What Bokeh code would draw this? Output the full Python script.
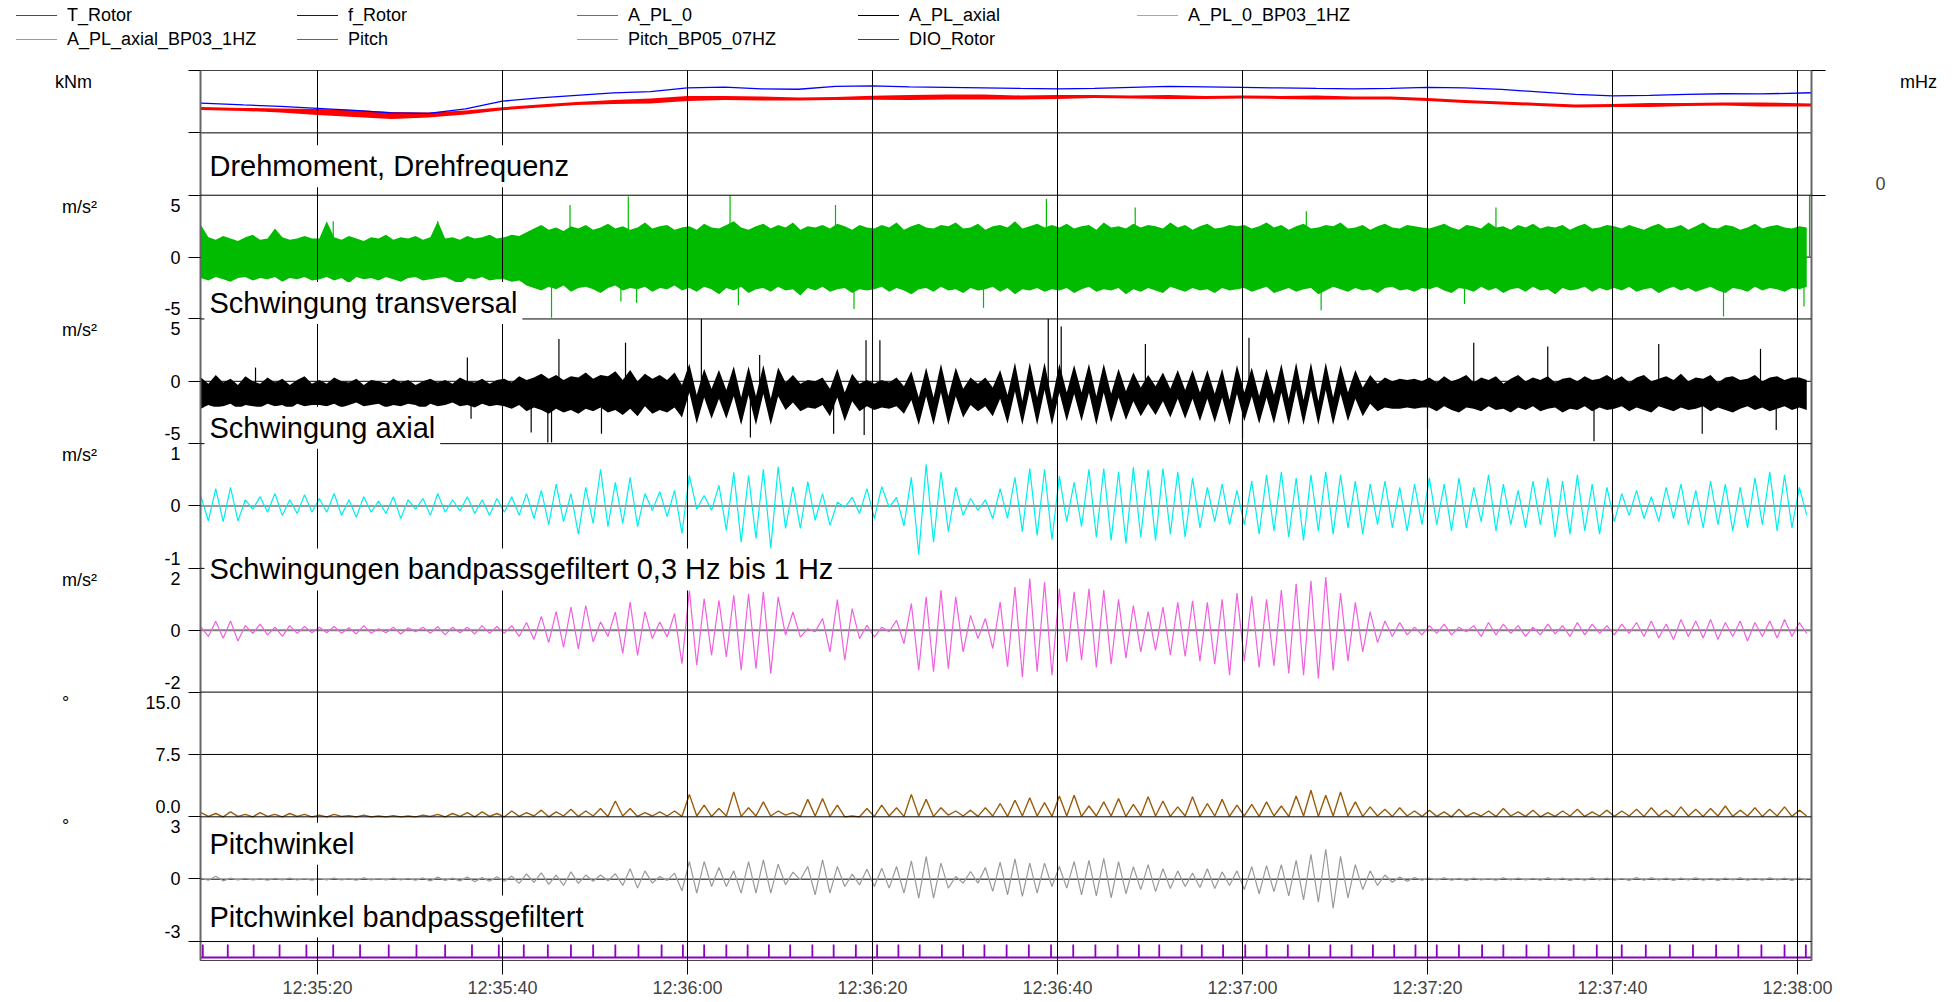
from bokeh.plotting import figure
from bokeh.models import Range1d, LinearAxis, FixedTicker, Span, Label, Div
from bokeh.layouts import column, row
from bokeh.embed import file_html
from bokeh.resources import INLINE

FONT = "Liberation Sans"

# ---------------------------------------------------------------- data
series_names = ["T_Rotor", "f_Rotor", "A_PL_0", "A_PL_axial", "A_PL_0_BP03_1HZ",
                "A_PL_axial_BP03_1HZ", "Pitch", "Pitch_BP05_07HZ", "DIO_Rotor"]
series_colors = ["#ff0000", "#0000ff", "#00bb00", "#000000", "#00eeee",
                 "#f060e0", "#9a5c0c", "#999999", "#8c00c0"]
panel_titles = ["Drehmoment, Drehfrequenz", "Schwingung transversal", "Schwingung axial",
                "Schwingungen bandpassgefiltert 0,3 Hz bis 1 Hz", "Pitchwinkel",
                "Pitchwinkel bandpassgefiltert"]
unit_texts = ["kNm", "m/s²", "m/s²", "m/s²", "m/s²", "°", "°"]
right_unit = "mHz"

# time in seconds after 12:35:00
time_ticks = [20, 40, 60, 80, 100, 120, 140, 160, 180]
time_labels = ["12:35:20", "12:35:40", "12:36:00", "12:36:20", "12:36:40",
               "12:37:00", "12:37:20", "12:37:40", "12:38:00"]

# axis ticks per panel (top, middle, bottom) and their labels
torque_ticks = [200, 100, 0]
a0_ticks, a0_labels = [5, 0, -5], ["5", "0", "-5"]
axial_ticks, axial_labels = [5, 0, -5], ["5", "0", "-5"]
a0bp_ticks, a0bp_labels = [1, 0, -1], ["1", "0", "-1"]
axbp_ticks, axbp_labels = [2, 0, -2], ["2", "0", "-2"]
pitch_ticks, pitch_labels = [15, 7.5, 0], ["15.0", "7.5", "0.0"]
pitchbp_ticks, pitchbp_labels = [3, 0, -3], ["3", "0", "-3"]
freq_ticks, freq_labels = [0], ["0"]

# rotor torque (kNm, band of the fast ripple) and rotor frequency (mHz)
rotor_t = [7.4, 12, 16, 20, 24, 28, 32, 36, 40, 44, 48, 52, 56, 60, 64, 68, 72, 76, 80, 84, 88, 92,
           96, 100, 104, 108, 112, 116, 120, 124, 128, 132, 136, 140, 144, 148, 152, 156, 160, 164,
           168, 172, 176, 181.5]
T_Rotor_max = [141.6, 140.0, 139.2, 138.4, 136.8, 133.6, 132.8, 136.0, 141.1, 145.6, 149.6, 152.8,
               155.2, 159.2, 159.2, 158.4, 156.8, 157.6, 159.5, 160.8, 161.6, 161.6, 160.0, 160.8,
               160.8, 160.0, 160.8, 159.2, 160.0, 159.2, 160.0, 158.4, 158.4, 156.0, 152.8, 150.4,
               148.0, 145.6, 146.4, 148.0, 148.0, 148.8, 148.8, 147.2]
T_Rotor_min = [136.8, 135.2, 132.8, 128.8, 125.6, 122.4, 124.8, 129.6, 136.3, 140.8, 144.8, 146.4,
               147.2, 151.2, 152.8, 152.0, 152.0, 152.8, 153.1, 152.8, 153.6, 153.6, 153.6, 154.4,
               156.0, 155.2, 154.4, 154.4, 155.2, 154.4, 153.6, 153.6, 153.6, 151.2, 148.0, 145.6,
               143.2, 140.8, 141.6, 141.6, 143.2, 144.0, 142.4, 142.4]
f_Rotor = [384.0, 376.5, 370.2, 361.9, 353.6, 343.2, 341.1, 359.8, 392.3, 405.6, 416.0, 426.4,
           431.8, 447.2, 450.5, 443.0, 441.8, 453.4, 455.5, 451.4, 449.3, 447.2, 445.1, 443.5,
           445.1, 449.3, 453.4, 451.4, 449.3, 447.2, 445.1, 443.5, 445.1, 449.3, 447.2, 441.0,
           430.6, 420.2, 413.9, 416.0, 420.2, 423.1, 422.2, 427.2]

# sampled signals: one value per half oscillation
sample_t0 = 7.4
sample_dt = 0.8

A_PL_0_max = [
    2.6, 1.6, 1.4, 1.7, 1.5, 1.3, 1.6, 1.8, 1.4, 1.5, 2.3, 1.6, 1.4, 1.5, 1.7, 1.5,
    1.5, 2.9, 1.6, 1.4, 1.7, 1.5, 1.3, 1.6, 1.5, 1.8, 1.4, 1.6, 1.5, 1.7, 1.4, 1.6, 2.9, 1.5, 1.6, 1.4, 1.7, 1.5, 1.6, 1.8, 1.5,
    1.6, 1.8, 1.7, 2.0, 2.3, 2.6, 2.2, 2.4, 2.1, 2.5, 2.3, 2.6, 2.2, 2.4, 2.7, 2.3, 2.5, 2.2, 2.4, 2.8, 2.3, 2.5, 2.6, 2.2, 2.4,
    2.5, 2.2, 2.7, 2.4, 2.3, 2.6, 2.9, 2.4, 2.2, 2.5, 2.7, 2.3, 2.6, 2.4, 2.8, 2.2, 2.5, 2.4, 2.6, 2.3, 2.7, 2.5, 2.2, 2.6, 2.4,
    2.3, 2.6, 2.4, 2.8, 2.2, 2.5, 2.7, 2.4, 2.3, 2.6, 2.5, 2.8, 2.3, 2.4, 2.7, 2.2, 2.5, 2.6, 2.4, 2.9, 2.3, 2.5, 2.7, 2.4, 2.6,
    2.4, 2.7, 2.3, 2.5, 2.6, 2.2, 2.8, 2.4, 2.5, 2.3, 2.7, 2.4, 2.6, 2.5, 2.3, 2.8, 2.4, 2.6, 2.2, 2.5, 2.7, 2.3, 2.4, 2.6, 2.5,
    2.6, 2.3, 2.5, 2.8, 2.4, 2.6, 2.2, 2.5, 2.7, 2.3, 2.4, 2.6, 2.5, 2.8, 2.3, 2.4, 2.6, 2.2, 2.5, 2.7, 2.4, 2.3, 2.6, 2.5, 2.4,
    2.3, 2.5, 2.7, 2.4, 2.2, 2.6, 2.5, 2.3, 2.8, 2.4, 2.5, 2.2, 2.6, 2.4, 2.7, 2.3, 2.5, 2.4, 2.6, 2.2, 2.5, 2.7, 2.3, 2.4, 2.6,
    2.5, 2.3, 2.6, 2.4, 2.2, 2.5, 2.7, 2.3, 2.4, 2.6, 2.2, 2.5, 2.8, 2.4, 2.3, 2.6, 2.5, 2.2, 2.4, 2.7, 2.3, 2.5, 2.6, 2.4, 2.3,
    2.5, 2.4]
A_PL_0_min = [
    -1.7, -1.9, -1.6, -1.8, -2.0, -1.7, -1.6, -1.9, -1.7, -1.8, -1.6, -2.0, -1.7, -1.8, -1.6, -1.9,
    -1.8, -1.6, -1.9, -1.7, -2.1, -1.6, -1.8, -1.7, -1.9, -1.6, -1.8, -2.0, -1.7, -1.6, -1.9, -1.8, -1.7, -1.6, -1.9, -2.2, -1.7, -1.8, -1.6, -1.9, -1.8,
    -1.8, -2.0, -1.9, -2.3, -2.5, -2.7, -2.4, -2.6, -2.3, -2.8, -2.5, -2.4, -2.6, -2.9, -2.5, -2.3, -2.7, -2.5, -2.6, -2.4, -2.8, -2.5, -2.6, -2.3, -2.7,
    -2.5, -2.8, -2.4, -2.6, -3.0, -2.5, -2.7, -2.4, -2.9, -2.6, -2.5, -2.8, -2.4, -2.7, -2.6, -3.1, -2.5, -2.7, -2.4, -2.8, -2.6, -2.5, -2.9, -2.6, -2.7,
    -2.6, -2.4, -2.8, -2.5, -2.7, -3.0, -2.6, -2.5, -2.8, -2.4, -2.7, -2.6, -2.9, -2.5, -2.7, -2.6, -2.4, -2.8, -2.5, -3.0, -2.6, -2.7, -2.5, -2.8, -2.6,
    -2.7, -2.5, -2.9, -2.6, -2.4, -2.8, -2.6, -2.7, -2.5, -3.0, -2.6, -2.8, -2.5, -2.7, -2.9, -2.4, -2.6, -2.8, -2.5, -2.7, -2.6, -2.9, -2.5, -2.7, -2.6,
    -2.5, -2.8, -2.6, -2.4, -2.9, -2.7, -2.5, -2.8, -2.6, -2.5, -3.0, -2.7, -2.4, -2.6, -2.8, -2.5, -2.7, -2.6, -2.9, -2.5, -2.4, -2.7, -2.6, -2.8, -2.5,
    -2.6, -2.4, -2.7, -2.9, -2.5, -2.6, -2.8, -2.4, -2.7, -2.5, -2.9, -2.6, -2.5, -2.8, -2.4, -2.7, -2.6, -3.0, -2.5, -2.7, -2.6, -2.4, -2.8, -2.5, -2.7,
    -2.5, -2.7, -2.4, -2.8, -2.6, -2.5, -2.9, -2.6, -2.4, -2.7, -2.5, -2.8, -2.6, -2.4, -2.7, -2.9, -2.5, -2.6, -2.8, -2.4, -2.7, -2.5, -2.6, -2.8, -2.5,
    -2.6, -2.4]
A_PL_0_spike_t = [21.7, 33.0, 45.3, 47.3, 52.8, 53.6, 54.5, 64.6, 65.5, 76.0, 78.0, 92.0, 98.8,
                  108.4, 126.9, 128.5, 144.0, 147.4, 172.0, 180.7, 181.3]
A_PL_0_spike_v = [2.9, 2.9, -4.9, 4.2, -3.6, 4.9, -3.7, 5.0, -3.9, 4.2, -4.2, -4.1, 4.7,
                  4.0, 3.7, -4.3, -3.8, 4.0, -4.8, -4.0, 5.0]

A_PL_axial_max = [
    0.3, -0.2, 0.5, -0.1, 0.2, -0.3, 0.4, 0.0, -0.2, 0.3, -0.1, 0.2, -0.3, 0.1, 0.4, -0.2,
    0.1, -0.2, 0.3, 0.0, -0.1, 0.2, -0.3, 0.1, 0.0, -0.2, 0.2, -0.1, 0.1, -0.3, 0.0, 0.2, -0.1, 0.1, -0.2, 0.3, 0.0, -0.1, 0.2, -0.2, 0.1,
    0.2, -0.1, 0.4, 0.1, 0.3, 0.6, 0.2, 0.5, 0.1, 0.4, 0.3, 0.7, 0.2, 0.5, 0.4, 0.8, 0.1, 0.9, 0.0, 0.6, 0.2, 0.5, 0.1, 0.7, -0.3,
    1.4, -1.1, 1.0, -0.6, 0.9, -0.7, 1.2, -1.3, 1.2, -1.2, 1.3, -1.4, 1.1, -0.1, 0.5, -0.2, 0.1, 0.0, 0.3, -0.6, 1.0, -0.9, 0.6, -0.2, 0.1,
    -0.2, 0.1, -0.1, 0.3, -0.4, 0.8, -1.3, 1.1, -1.3, 1.4, -1.2, 1.1, -0.6, 0.3, -0.2, 0.3, -0.5, 0.9, -1.1, 1.5, -1.6, 1.5, -1.3, 1.5, -1.5,
    1.4, -0.9, 1.3, -0.9, 1.4, -1.2, 1.4, -1.0, 1.0, -0.8, 0.7, -0.5, 0.5, -0.4, 0.7, -0.6, 0.9, -0.7, 0.9, -0.9, 0.9, -1.0, 1.0, -1.5, 1.3,
    -0.9, 1.1, -1.2, 1.0, -1.1, 1.4, -1.4, 1.5, -1.5, 1.5, -1.6, 1.5, -1.3, 1.3, -0.9, 0.9, -0.5, 0.5, -0.2, 0.3, 0.0, 0.2, 0.1, 0.2, 0.0,
    0.3, -0.1, 0.4, 0.0, 0.2, 0.5, -0.1, 0.3, 0.1, 0.4, -0.2, 0.2, 0.5, 0.0, 0.3, 0.1, 0.4, -0.1, 0.2, 0.3, 0.0, 0.4, 0.1, 0.2, 0.5,
    0.1, 0.4, -0.1, 0.3, 0.5, 0.0, 0.2, 0.4, 0.1, 0.6, 0.0, 0.3, 0.2, 0.5, -0.1, 0.3, 0.4, 0.1, 0.2, 0.5, 0.0, 0.3, 0.4, 0.1, 0.3,
    0.3, 0.1]
A_PL_axial_min = [
    -2.2, -1.9, -2.1, -2.0, -1.8, -2.2, -1.9, -2.0, -2.1, -1.8, -2.0, -1.9, -2.2, -1.8, -2.0, -1.9,
    -1.9, -2.0, -1.8, -2.1, -1.9, -1.7, -2.0, -1.9, -1.8, -2.1, -1.9, -2.0, -1.8, -1.9, -2.2, -1.8, -2.0, -1.9, -1.7, -2.0, -1.9, -2.1, -1.8, -2.0, -1.9,
    -2.0, -2.2, -1.9, -2.4, -2.1, -2.3, -2.6, -2.2, -2.5, -2.3, -2.6, -2.2, -2.4, -2.1, -2.5, -2.3, -2.7, -2.2, -2.8, -2.0, -2.6, -2.3, -2.5, -2.1, -2.9,
    -0.9, -3.4, -1.3, -3.0, -1.4, -3.0, -1.2, -3.5, -1.1, -3.5, -1.0, -3.5, -1.2, -2.3, -1.7, -2.4, -2.1, -2.2, -1.9, -2.8, -1.3, -3.2, -1.6, -2.4, -2.0,
    -2.3, -2.1, -2.2, -2.0, -2.6, -1.5, -3.5, -1.2, -3.5, -0.9, -3.5, -1.2, -2.9, -1.9, -2.4, -2.0, -2.8, -1.4, -3.4, -0.8, -3.5, -0.7, -3.5, -0.7, -3.5,
    -0.9, -3.2, -1.0, -3.2, -0.9, -3.5, -0.9, -3.3, -1.3, -3.1, -1.6, -2.8, -1.8, -2.7, -1.6, -2.9, -1.4, -3.0, -1.4, -3.2, -1.4, -3.3, -1.3, -3.5, -1.0,
    -3.2, -1.2, -3.4, -1.3, -3.4, -0.9, -3.5, -0.7, -3.5, -0.7, -3.5, -0.7, -3.5, -1.0, -3.2, -1.4, -2.8, -1.8, -2.4, -2.1, -2.2, -2.2, -2.1, -2.2, -2.1,
    -2.1, -2.4, -2.0, -2.3, -2.5, -2.1, -2.2, -2.4, -2.0, -2.3, -2.2, -2.5, -2.1, -2.3, -2.0, -2.4, -2.2, -2.1, -2.5, -2.2, -2.3, -2.0, -2.4, -2.1, -2.3,
    -2.2, -2.0, -2.4, -2.1, -2.3, -2.5, -2.0, -2.2, -2.4, -2.1, -2.3, -2.2, -2.0, -2.4, -2.1, -2.3, -2.5, -2.2, -2.0, -2.3, -2.1, -2.4, -2.2, -2.0, -2.3,
    -2.1, -2.3]
A_PL_axial_spike_t = [13.3, 36.2, 36.6, 43.1, 44.9, 45.3, 46.1, 50.7, 53.3, 61.5, 66.8, 67.8, 75.8,
                      79.1, 79.3, 80.8, 99.0, 100.4, 109.5, 120.0, 120.7, 140.0, 145.0, 153.0,
                      158.0, 165.0, 169.7, 176.0, 177.7]
A_PL_axial_spike_v = [1.1, 1.9, -3.0, -4.1, -4.9, -4.9, 3.4, -4.2, 3.1, 5.0, -4.5, 2.1, -4.2,
                      -4.3, 3.3, 3.3, 5.0, 4.4, 3.0, -4.6, 3.5, -3.8, 3.1, 2.8,
                      -4.8, 3.0, -4.2, 2.6, -3.9]

A_PL_0_BP03_1HZ = [
    0.15, -0.24, 0.28, -0.25, 0.3, -0.24, 0.1, -0.05, 0.15, -0.1, 0.2, -0.15, 0.1, -0.12, 0.18, -0.1,
    0.12, -0.1, 0.2, -0.15, 0.1, -0.18, 0.15, -0.1, 0.08, -0.12, 0.15, -0.2, 0.1, -0.05, 0.12, -0.15, 0.2, -0.1, 0.1, -0.08, 0.15, -0.12, 0.1, -0.15, 0.12,
    -0.1, 0.15, -0.15, 0.2, -0.2, 0.25, -0.3, 0.35, -0.25, 0.2, -0.45, 0.3, -0.28, 0.59, -0.33, 0.38, -0.28, 0.46, -0.33, 0.2, -0.07, 0.23, -0.17, 0.25, -0.44,
    0.49, -0.05, 0.17, -0.07, 0.33, -0.39, 0.54, -0.58, 0.49, -0.52, 0.59, -0.68, 0.63, -0.36, 0.31, -0.36, 0.39, -0.23, 0.2, -0.31, 0.06, -0.02, 0.14, -0.12, 0.28,
    -0.2, 0.31, -0.02, 0.14, -0.32, 0.46, -0.78, 0.67, -0.58, 0.55, -0.41, 0.3, -0.15, 0.12, -0.07, 0.1, -0.2, 0.28, -0.2, 0.46, -0.41, 0.6, -0.47, 0.59, -0.54,
    0.48, -0.25, 0.38, -0.33, 0.59, -0.5, 0.6, -0.55, 0.55, -0.6, 0.62, -0.5, 0.58, -0.55, 0.6, -0.45, 0.55, -0.5, 0.45, -0.35, 0.3, -0.25, 0.35, -0.3, 0.25,
    -0.3, 0.4, -0.45, 0.5, -0.4, 0.55, -0.5, 0.45, -0.55, 0.5, -0.4, 0.55, -0.45, 0.5, -0.35, 0.4, -0.45, 0.35, -0.3, 0.4, -0.35, 0.3, -0.4, 0.35, -0.3,
    0.45, -0.3, 0.35, -0.4, 0.45, -0.35, 0.3, -0.25, 0.5, -0.4, 0.35, -0.3, 0.25, -0.35, 0.4, -0.3, 0.45, -0.5, 0.4, -0.45, 0.5, -0.4, 0.35, -0.45, 0.3,
    -0.25, 0.2, -0.15, 0.25, -0.2, 0.15, -0.25, 0.3, -0.2, 0.35, -0.3, 0.25, -0.35, 0.4, -0.3, 0.35, -0.4, 0.3, -0.35, 0.45, -0.3, 0.55, -0.4, 0.5, -0.35,
    0.3, -0.15]

A_PL_axial_BP03_1HZ = [
    0.1, -0.2, 0.29, -0.26, 0.3, -0.35, 0.15, -0.1, 0.2, -0.15, 0.1, -0.2, 0.15, -0.1, 0.12, -0.08,
    0.1, -0.08, 0.12, -0.1, 0.08, -0.12, 0.15, -0.1, 0.05, -0.08, 0.1, -0.12, 0.08, -0.05, 0.1, -0.1, 0.12, -0.15, 0.1, -0.08, 0.1, -0.12, 0.15, -0.1, 0.12,
    -0.1, 0.15, -0.2, 0.25, -0.3, 0.45, -0.4, 0.6, -0.55, 0.75, -0.6, 0.8, -0.38, 0.27, -0.2, 0.59, -0.75, 0.91, -0.81, 0.6, -0.27, 0.27, -0.22, 0.54, -1.08,
    1.29, -1.13, 1.02, -0.81, 0.97, -0.86, 1.13, -1.29, 1.18, -1.24, 1.24, -1.4, 1.08, -0.16, 0.59, -0.22, 0.05, -0.05, 0.38, -0.7, 0.99, -0.97, 0.7, -0.27, 0.16,
    -0.22, 0.1, -0.05, 0.32, -0.43, 0.86, -1.29, 1.08, -1.34, 1.29, -1.24, 1.08, -0.7, 0.48, -0.27, 0.38, -0.59, 0.91, -1.18, 1.4, -1.51, 1.67, -1.34, 1.56, -1.45,
    1.34, -1.02, 1.24, -0.97, 1.34, -1.2, 1.3, -1.1, 1.0, -0.9, 0.8, -0.7, 0.6, -0.65, 0.75, -0.8, 0.9, -0.85, 0.95, -1.0, 0.9, -1.1, 1.0, -1.45, 1.2,
    -1.0, 1.1, -1.2, 1.0, -1.15, 1.3, -1.4, 1.5, -1.45, 1.6, -1.56, 1.72, -1.3, 1.2, -1.0, 0.9, -0.7, 0.6, -0.4, 0.3, -0.2, 0.25, -0.15, 0.1, -0.15,
    0.15, -0.1, 0.2, -0.15, 0.1, -0.05, 0.15, -0.2, 0.25, -0.15, 0.2, -0.1, 0.15, -0.2, 0.1, -0.15, 0.2, -0.12, 0.15, -0.2, 0.25, -0.15, 0.2, -0.1, 0.15,
    -0.15, 0.2, -0.1, 0.25, -0.2, 0.3, -0.25, 0.2, -0.3, 0.35, -0.2, 0.3, -0.25, 0.35, -0.3, 0.25, -0.2, 0.3, -0.35, 0.25, -0.2, 0.3, -0.25, 0.35, -0.2,
    0.25, -0.1]

Pitch = [
    0.5, 0.05, 0.4, 0.0, 0.6, 0.05, 0.3, 0.0, 0.5, 0.05, 0.3, 0.0, 0.4, 0.05, 0.3, 0.0,
    0.2, 0.0, 0.3, 0.05, 0.15, 0.0, 0.2, 0.0, 0.1, 0.0, 0.15, 0.0, 0.1, 0.0, 0.2, 0.05, 0.3, 0.0, 0.4, 0.05, 0.5, 0.0, 0.6, 0.05, 0.4,
    0.0, 0.7, 0.05, 0.5, 0.1, 0.8, 0.0, 0.6, 0.1, 0.9, 0.05, 0.7, 0.1, 1.0, 0.05, 1.9, 0.1, 1.0, 0.05, 0.5, 0.1, 0.6, 0.1, 0.7, 0.05,
    2.7, 0.1, 1.4, 0.05, 1.0, 0.1, 3.0, 0.05, 1.1, 0.1, 1.8, 0.1, 0.7, 0.2, 0.5, 0.05, 2.1, 0.1, 2.2, 0.05, 1.4, 0.0, 0.1, 0.0, 1.0,
    0.05, 1.4, 0.1, 1.1, 0.05, 2.7, 0.1, 2.1, 0.05, 1.1, 0.2, 0.7, 0.1, 0.8, 0.05, 1.1, 0.1, 1.6, 0.05, 2.0, 0.1, 2.3, 0.1, 1.7, 0.05,
    2.5, 0.1, 2.6, 0.05, 1.3, 0.1, 1.8, 0.1, 2.2, 0.05, 1.5, 0.1, 2.4, 0.1, 1.9, 0.05, 1.2, 0.1, 2.4, 0.05, 1.6, 0.1, 2.1, 0.05, 1.4,
    0.1, 1.5, 0.05, 1.8, 0.1, 1.3, 0.05, 2.5, 0.1, 3.2, 0.05, 2.6, 0.1, 3.0, 0.1, 1.8, 0.05, 1.2, 0.1, 0.9, 0.05, 1.1, 0.1, 0.7, 0.05,
    0.8, 0.05, 0.6, 0.0, 0.9, 0.05, 0.5, 0.1, 0.7, 0.05, 1.0, 0.1, 0.6, 0.05, 0.8, 0.0, 0.5, 0.05, 0.7, 0.1, 0.9, 0.05, 0.6, 0.1, 0.8,
    0.05, 0.7, 0.1, 0.9, 0.05, 1.1, 0.1, 0.8, 0.05, 1.2, 0.1, 0.9, 0.05, 1.0, 0.1, 1.3, 0.05, 0.8, 0.1, 1.1, 0.05, 0.9, 0.1, 1.2, 0.05,
    0.8, 0.1]

Pitch_BP05_07HZ = [
    0.05, -0.05, 0.14, -0.08, 0.05, -0.03, 0.04, -0.04, 0.03, -0.05, 0.04, -0.03, 0.05, -0.04, 0.03, -0.05,
    0.04, -0.03, 0.05, -0.04, 0.03, -0.05, 0.06, -0.04, 0.03, -0.03, 0.05, -0.04, 0.04, -0.05, 0.06, -0.08, 0.1, -0.06, 0.05, -0.08, 0.1, -0.12, 0.08, -0.1, 0.12,
    -0.1, 0.15, -0.2, 0.25, -0.15, 0.3, -0.25, 0.2, -0.3, 0.35, -0.2, 0.2, -0.1, 0.2, -0.08, 0.26, -0.3, 0.5, -0.43, 0.4, -0.19, 0.13, -0.06, 0.29, -0.56,
    0.85, -0.67, 0.85, -0.35, 0.56, -0.35, 0.4, -0.67, 0.85, -0.67, 0.93, -0.67, 0.72, -0.27, 0.34, -0.03, 0.61, -0.75, 0.93, -0.67, 0.61, -0.35, 0.24, -0.27, 0.48,
    -0.35, 0.53, -0.43, 0.61, -0.67, 0.88, -0.91, 1.09, -0.91, 0.77, -0.43, 0.13, -0.19, 0.37, -0.19, 0.56, -0.59, 0.82, -0.75, 0.98, -0.83, 0.77, -0.67, 0.77, -0.35,
    0.61, -0.43, 0.85, -0.75, 0.9, -0.8, 1.0, -0.9, 0.85, -0.7, 0.6, -0.5, 0.7, -0.6, 0.5, -0.45, 0.4, -0.35, 0.3, -0.4, 0.5, -0.45, 0.35, -0.3, 0.4,
    -0.5, 0.6, -0.7, 0.65, -0.6, 0.7, -0.8, 0.9, -1.0, 1.2, -1.1, 1.44, -1.4, 1.1, -0.9, 0.7, -0.5, 0.4, -0.3, 0.2, -0.15, 0.1, -0.1, 0.08, -0.05,
    0.05, -0.04, 0.06, -0.05, 0.04, -0.06, 0.05, -0.04, 0.03, -0.05, 0.06, -0.04, 0.05, -0.03, 0.04, -0.05, 0.06, -0.04, 0.05, -0.06, 0.04, -0.05, 0.06, -0.04, 0.05,
    -0.05, 0.04, -0.06, 0.08, -0.05, 0.06, -0.04, 0.05, -0.06, 0.05, -0.04, 0.06, -0.05, 0.04, -0.06, 0.05, -0.04, 0.06, -0.05, 0.04, -0.05, 0.06, -0.04, 0.05, -0.06,
    0.05, -0.04]

# rotor revolution pulses (s)
DIO_Rotor_t = [7.6, 10.3, 13.1, 15.9, 18.8, 21.7, 24.6, 27.7, 30.7, 33.8, 36.7, 39.6, 42.3, 44.9,
               47.4, 49.8, 52.2, 54.7, 57.2, 59.5, 61.8, 64.2, 66.5, 68.8, 71.1, 73.5, 75.8, 78.2,
               80.5, 82.8, 85.1, 87.5, 89.8, 92.1, 94.5, 96.9, 99.3, 101.7, 104.1, 106.5, 108.8,
               111.0, 113.4, 115.6, 117.9, 120.3, 122.6, 124.9, 127.2, 129.5, 131.8, 134.1, 136.4,
               138.7, 141.0, 143.4, 145.9, 148.2, 150.7, 153.1, 155.8, 158.3, 161.0, 163.6, 166.2,
               168.7, 171.2, 173.6, 176.1, 178.6, 180.9]

# ---------------------------------------------------------------- layout (page pixels)
PX0, PX1 = 200, 1811          # frame left / right
FT, FB = 70, 962              # frame top / bottom
T_REF_PX, PX_PER_S = 317, 9.25  # 12:35:20 gridline and time scale
LEG_H = 60                    # legend strip height
UNIT_W = 120                  # unit column width (left)
RIGHT_X = 1895                # start of right unit column
PAGE_W = 1950
MAIN_H = 940


def t_at(px):
    return 20 + (px - T_REF_PX) / PX_PER_S


def yp(py):
    return FB - py


X0, X1 = t_at(PX0), t_at(PX1)

# name, page top, page bottom, value at bottom, value at top
panel_defs = [
    ("torque", 70, 195, 0, 200),
    ("freq", 70, 195, 0, 520),
    ("a0", 195, 319, -5, 5),
    ("axial", 319, 444, -5, 5),
    ("a0bp", 444, 569, -1, 1),
    ("axbp", 569, 693, -2, 2),
    ("pitch", 693, 818, 0, 15),
    ("pitchbp", 818, 943, -3, 3),
    ("dio", 943, 962, -0.23, 1.23),
]
pinfo = {d[0]: d[1:] for d in panel_defs}


def val_to_page(name, v):
    top, bot, lo, hi = pinfo[name]
    return bot - (v - lo) / (hi - lo) * (bot - top)


main_w = RIGHT_X - UNIT_W
p = figure(width=main_w, height=MAIN_H, x_range=Range1d(X0, X1), y_range=Range1d(0, FB - FT),
           output_backend="svg", toolbar_location=None, title=None,
           min_border_left=PX0 - UNIT_W, min_border_right=RIGHT_X - PX1,
           min_border_top=FT - LEG_H, min_border_bottom=LEG_H + MAIN_H - FB)
p.background_fill_color = "white"
p.border_fill_color = "white"
p.outline_line_color = "#444444"
p.outline_line_width = 1

ranges = {}
for name, top, bot, lo, hi in panel_defs:
    b = FB - bot
    h = bot - top
    k = (hi - lo) / h
    ranges[name] = Range1d(start=lo - b * k, end=hi + ((FB - FT) - b - h) * k)
p.extra_y_ranges = ranges

# grids
p.ygrid.visible = False
p.xgrid.ticker = FixedTicker(ticks=time_ticks)
p.xgrid.grid_line_color = "black"
p.xgrid.grid_line_width = 1
p.xgrid.level = "guide"

# horizontal panel boundaries
for name, top, bot, lo, hi in panel_defs[1:-1]:
    p.add_layout(Span(location=yp(bot), dimension="width", line_color="black",
                      line_width=1, level="guide"))
# mid lines of each panel
mid_lines = [("torque", 100, "black", 1), ("a0", 0, "black", 1), ("axial", 0, "black", 1),
             ("a0bp", 0, "#333333", 1), ("axbp", 0, "#808080", 2), ("pitch", 7.5, "black", 1),
             ("pitchbp", 0, "black", 1)]
for name, v, cl, w in mid_lines:
    p.add_layout(Span(location=v, dimension="width", y_range_name=name, line_color=cl,
                      line_width=w, level="underlay"))

# left axis: tick marks (minor) at the values, labels nudged inside the panels
axis_specs = [("torque", torque_ticks, ["", "", ""]), ("a0", a0_ticks, a0_labels),
              ("axial", axial_ticks, axial_labels), ("a0bp", a0bp_ticks, a0bp_labels),
              ("axbp", axbp_ticks, axbp_labels), ("pitch", pitch_ticks, pitch_labels),
              ("pitchbp", pitchbp_ticks, pitchbp_labels)]
left_major, left_minor, left_text = [], set(), {}
for name, vals, texts in axis_specs:
    for i, (v, s) in enumerate(zip(vals, texts)):
        pg = val_to_page(name, v)
        left_minor.add(int(round(yp(pg))))
        shift = 10 if i == 0 else (-10 if i == len(vals) - 1 else 0)
        if s:
            pos = int(round(yp(pg + shift)))
            left_major.append(pos)
            left_text[pos] = s

ya = p.yaxis[0]
ya.ticker = FixedTicker(ticks=left_major, minor_ticks=sorted(left_minor))
ya.major_label_overrides = left_text
ya.major_tick_out = 0
ya.major_tick_in = 0
ya.minor_tick_out = 12
ya.minor_tick_in = 0
ya.minor_tick_line_color = "black"
ya.major_label_standoff = 8
ya.major_label_text_font = FONT
ya.major_label_text_font_size = "18px"
ya.major_label_text_color = "black"
ya.axis_line_color = "#666666"
ya.axis_line_width = 2

# right axis for the rotor frequency
r_minor = [int(round(yp(val_to_page("freq", 0)))), int(round(yp(val_to_page("freq", 520))))]
r_major, r_text = [], {}
for v, s in zip(freq_ticks, freq_labels):
    pos = int(round(yp(val_to_page("freq", v) - 12)))
    r_major.append(pos)
    r_text[pos] = s
ra = LinearAxis(ticker=FixedTicker(ticks=r_major, minor_ticks=r_minor),
                major_label_overrides=r_text, major_tick_out=0, major_tick_in=0,
                minor_tick_out=14, minor_tick_in=0, minor_tick_line_color="black",
                major_label_standoff=50, major_label_text_font=FONT,
                major_label_text_font_size="18px", axis_line_color="#666666", axis_line_width=2)
p.add_layout(ra, "right")

# time axis
xa = p.xaxis[0]
xa.ticker = FixedTicker(ticks=time_ticks)
xa.major_label_overrides = dict(zip(time_ticks, time_labels))
xa.major_tick_out = 14
xa.major_tick_in = 0
xa.major_tick_line_color = "black"
xa.minor_tick_out = 0
xa.minor_tick_in = 0
xa.major_label_standoff = 3
xa.major_label_text_font = FONT
xa.major_label_text_font_size = "18px"
xa.axis_line_color = "#444444"

# ---------------------------------------------------------------- signals
c = series_colors
p.varea(x=rotor_t, y1=T_Rotor_min, y2=T_Rotor_max, fill_color=c[0], y_range_name="torque")
p.line(rotor_t, f_Rotor, line_color=c[1], line_width=1.3, y_range_name="freq")


def times(arr):
    return [sample_t0 + sample_dt * i for i in range(len(arr))]


n = min(len(A_PL_0_max), len(A_PL_0_min))
p.varea(x=times(A_PL_0_max[:n]), y1=A_PL_0_min[:n], y2=A_PL_0_max[:n], fill_color=c[2],
        y_range_name="a0")
p.segment(x0=A_PL_0_spike_t, y0=[0] * len(A_PL_0_spike_t), x1=A_PL_0_spike_t,
          y1=A_PL_0_spike_v, line_color=c[2], line_width=1.2, y_range_name="a0")

n = min(len(A_PL_axial_max), len(A_PL_axial_min))
p.varea(x=times(A_PL_axial_max[:n]), y1=A_PL_axial_min[:n], y2=A_PL_axial_max[:n],
        fill_color=c[3], y_range_name="axial")
p.segment(x0=A_PL_axial_spike_t, y0=[-1] * len(A_PL_axial_spike_t), x1=A_PL_axial_spike_t,
          y1=A_PL_axial_spike_v, line_color=c[3], line_width=1.2, y_range_name="axial")

p.line(times(A_PL_0_BP03_1HZ), A_PL_0_BP03_1HZ, line_color=c[4], line_width=1.2,
       y_range_name="a0bp")
p.line(times(A_PL_axial_BP03_1HZ), A_PL_axial_BP03_1HZ, line_color=c[5], line_width=1.2,
       y_range_name="axbp")
p.line(times(Pitch), Pitch, line_color=c[6], line_width=1.4, y_range_name="pitch")
p.line(times(Pitch_BP05_07HZ), Pitch_BP05_07HZ, line_color=c[7], line_width=1.2,
       y_range_name="pitchbp")

dio_x, dio_y = [X0], [0]
for tt in DIO_Rotor_t:
    dio_x += [tt, tt, tt]
    dio_y += [0, 1, 0]
dio_x.append(X1)
dio_y.append(0)
p.line(dio_x, dio_y, line_color=c[8], line_width=1.8, y_range_name="dio")

# ---------------------------------------------------------------- panel titles
title_baselines = [166, 303, 428, 570, 845, 918]
for text, base in zip(panel_titles, title_baselines):
    p.add_layout(Label(x=t_at(204), y=yp(base), text=text, text_font=FONT,
                       text_font_size="29px", text_baseline="alphabetic", text_color="black",
                       background_fill_color="white", background_fill_alpha=1.0, padding=5))

# ---------------------------------------------------------------- html side strips
CSS_FONT = "font-family:'Liberation Sans',Arial,sans-serif;color:#000;"


def abs_text(x, y, text, size=18):
    return (f'<div style="position:absolute;left:{x}px;top:{y - 12}px;height:24px;'
            f'line-height:24px;font-size:{size}px;white-space:nowrap;">{text}</div>')


def abs_line(x, y, w, color):
    return (f'<div style="position:absolute;left:{x}px;top:{y}px;width:{w}px;height:0;'
            f'border-top:1.5px solid {color};"></div>')


def box(w, h, inner):
    return (f'<div style="position:relative;width:{w}px;height:{h}px;overflow:hidden;'
            f'{CSS_FONT}">{inner}</div>')


leg_cols = [16, 297, 577, 858, 1137]
leg_rows = [15, 39]
parts = []
for i, (name, col) in enumerate(zip(series_names, series_colors)):
    r, cc = divmod(i, 5)
    x0, y = leg_cols[cc], leg_rows[r]
    parts.append(abs_line(x0, y, 41, col))
    parts.append(abs_text(x0 + 51, y, name))
legend_div = Div(text=box(PAGE_W, LEG_H, "".join(parts)), width=PAGE_W, height=LEG_H, margin=0)

unit_pos = [(55, 82), (62, 207), (62, 330), (62, 455), (62, 580), (62, 703), (62, 826)]
parts = [abs_text(ux, uy - LEG_H, t) for t, (ux, uy) in zip(unit_texts, unit_pos)]
units_div = Div(text=box(UNIT_W, MAIN_H, "".join(parts)), width=UNIT_W, height=MAIN_H, margin=0)

right_div = Div(text=box(PAGE_W - RIGHT_X, MAIN_H, abs_text(1900 - RIGHT_X, 82 - LEG_H, right_unit)),
                width=PAGE_W - RIGHT_X, height=MAIN_H, margin=0)

layout = column(legend_div, row(units_div, p, right_div, spacing=0), spacing=0)
open("out.html", "w").write(file_html(layout, INLINE))
